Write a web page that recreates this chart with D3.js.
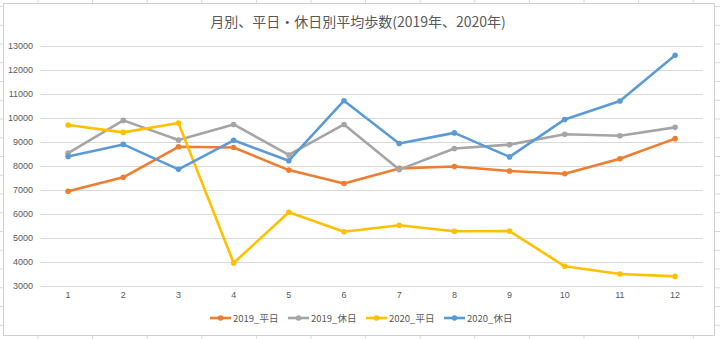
<!DOCTYPE html>
<html><head><meta charset="utf-8">
<script src="https://cdn.jsdelivr.net/npm/d3@7"></script>
<style>html,body{margin:0;padding:0;background:#fff;}svg{display:block;}</style>
</head><body>
<svg id="c" width="720" height="339"></svg>
<script>
const months = ["1","2","3","4","5","6","7","8","9","10","11","12"];
const seriesNames = ["2019_平日","2019_休日","2020_平日","2020_休日"];
const s2019weekday = [6950,7530,8800,8770,7830,7270,7900,7980,7790,7680,8300,9140];
const s2019holiday = [8540,9900,9080,9730,8460,9730,7850,8730,8890,9320,9260,9610];
const s2020weekday = [9710,9400,9790,3960,6070,5260,5530,5280,5290,3820,3500,3400];
const s2020holiday = [8400,8900,7860,9070,8220,10720,8940,9380,8380,9940,10710,12610];
const yTicks = [3000,4000,5000,6000,7000,8000,9000,10000,11000,12000,13000];
const colors = ["#ED7D31","#A5A5A5","#FFC000","#5B9BD5"];
const title = "月別、平日・休日別平均歩数(2019年、2020年)";

const svg = d3.select("#c");
const W = 720, H = 339;
const font = "'Noto Sans CJK JP','Noto Sans',sans-serif";

// spreadsheet background grid
const bg = svg.append("g");
d3.range(38, W, 54.6).forEach(x => bg.append("line").attr("x1",x).attr("x2",x).attr("y1",0).attr("y2",H).attr("stroke","#d8d8d8").attr("stroke-width",1));
d3.range(6.5, H, 18.75).forEach(y => bg.append("line").attr("x1",0).attr("x2",W).attr("y1",y).attr("y2",y).attr("stroke","#d8d8d8").attr("stroke-width",1));

// chart area
svg.append("rect").attr("x",3.5).attr("y",3.5).attr("width",711).attr("height",332)
  .attr("fill","#fff").attr("stroke","#d0d0d0").attr("stroke-width",1);

const x = d3.scaleBand().domain(months).range([40.5, 702.7]);
const y = d3.scaleLinear().domain([3000,13000]).range([286,46]);

// gridlines
svg.append("g").selectAll("line").data(yTicks).join("line")
  .attr("x1",40.5).attr("x2",702.7)
  .attr("y1",d=>Math.round(y(d))+0.5).attr("y2",d=>Math.round(y(d))+0.5)
  .attr("stroke","#d9d9d9").attr("stroke-width",1);

// y axis labels
const yAxis = d3.axisLeft(y).tickValues(yTicks).tickSize(0).tickPadding(0).tickFormat(d3.format("d"));
const gy = svg.append("g").attr("transform","translate(33,0)").call(yAxis);
gy.select(".domain").remove();
gy.selectAll("text").attr("fill","#595959").style("font-size","9px").style("font-family","'Liberation Sans',Arial,sans-serif");

// x axis labels
const xAxis = d3.axisBottom(x).tickSize(0).tickPadding(0);
const gx = svg.append("g").attr("transform","translate(0,292)").call(xAxis);
gx.select(".domain").remove();
gx.selectAll("text").attr("fill","#595959").style("font-size","9px").style("font-family","'Liberation Sans',Arial,sans-serif");

// series
const data = [s2019weekday, s2019holiday, s2020weekday, s2020holiday];
const line = d3.line().x((d,i)=>x(months[i])+x.bandwidth()/2).y(d=>y(d));
data.forEach((vals,k)=>{
  const g = svg.append("g");
  g.append("path").datum(vals).attr("d",line).attr("fill","none")
    .attr("stroke",colors[k]).attr("stroke-width",2.6).attr("stroke-linejoin","round").attr("stroke-linecap","round");
  g.selectAll("circle").data(vals).join("circle")
    .attr("cx",(d,i)=>x(months[i])+x.bandwidth()/2).attr("cy",d=>y(d)).attr("r",2.8)
    .attr("fill",colors[k]);
});

// title
svg.append("text").attr("x",358).attr("y",27).attr("text-anchor","middle")
  .attr("fill","#595959").style("font-size","14px").style("font-family",font).text(title);

// legend
const legX = [210,288,366,444];
seriesNames.forEach((n,k)=>{
  const g = svg.append("g").attr("transform",`translate(${legX[k]},318)`);
  g.append("line").attr("x1",0).attr("x2",21).attr("y1",0).attr("y2",0).attr("stroke",colors[k]).attr("stroke-width",2.6);
  g.append("circle").attr("cx",10.5).attr("cy",0).attr("r",2.8).attr("fill",colors[k]);
  g.append("text").attr("x",23).attr("y",3.5).attr("fill","#595959")
    .style("font-size","9.5px").style("font-family",font).text(n);
});
</script>
</body></html>
